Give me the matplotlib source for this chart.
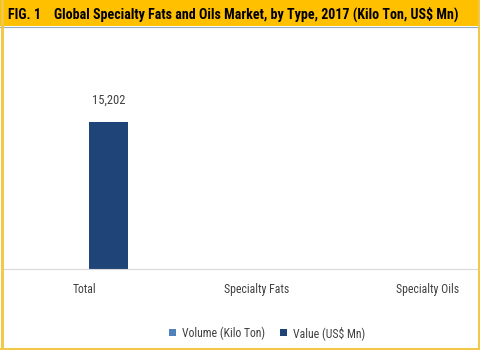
import matplotlib.pyplot as plt
import numpy as np
from matplotlib.patches import Rectangle
from matplotlib.lines import Line2D

categories = ['Total', 'Specialty Fats', 'Specialty Oils']
volume_kilo_ton = [0, 0, 0]
value_usd_mn = [15202, 0, 0]
series_names = ['Volume (Kilo Ton)', 'Value (US$ Mn)']
title = 'FIG. 1    Global Specialty Fats and Oils Market, by Type, 2017 (Kilo Ton, US$ Mn)'

light_blue = '#4F81BD'
dark_blue = '#1F4477'
gold = '#FFC000'
grey_text = '#404040'

plt.rcParams['font.family'] = ['Roboto Condensed', 'DejaVu Sans']

fig = plt.figure(figsize=(4.8, 3.5), dpi=100)
fig.patch.set_facecolor('white')

# title banner and yellow frame
fig.patches.append(Rectangle((0, 1 - 26 / 350), 1, 26 / 350, transform=fig.transFigure,
                             facecolor=gold, edgecolor='none', zorder=0))
fig.lines.append(Line2D([0, 1], [1 - 26.5 / 350] * 2, transform=fig.transFigure,
                        color='#8EA9C1', lw=0.8))
for xs, ys in [([1.5 / 480] * 2, [0, 1]), ([478.5 / 480] * 2, [0, 1]),
               ([0, 1], [1.5 / 350] * 2)]:
    fig.lines.append(Line2D(xs, ys, transform=fig.transFigure, color='#F2C84B', lw=2.2))
fig.text(8 / 480, 1 - 14 / 350, title, fontsize=10.1, fontweight='bold',
         color='black', va='center', ha='left')

ax = fig.add_axes([3 / 480, (350 - 269) / 350, 474 / 480, 229 / 350])
x = np.arange(len(categories))
w = 0.227
off = 0.137
ax.bar(x - off, volume_kilo_ton, w, color=light_blue, linewidth=0, label=series_names[0])
bars = ax.bar(x + off, value_usd_mn, w, color=dark_blue, linewidth=0, label=series_names[1])
for b, v in zip(bars, value_usd_mn):
    if v:
        ax.annotate(f'{v:,}', (b.get_x() + b.get_width() / 2, v), xytext=(0, 11),
                    textcoords='offset points', ha='center', va='bottom',
                    fontsize=9, color=grey_text)

ax.set_xlim(-0.478, 2.286)
ax.set_ylim(0, 23700)
ax.set_xticks(x)
ax.set_xticklabels(categories, fontsize=8.5, color=grey_text)
ax.tick_params(axis='x', length=0, pad=10)
ax.set_yticks([])
for s in ['top', 'left', 'right']:
    ax.spines[s].set_visible(False)
ax.spines['bottom'].set_color('#D9D9D9')

leg = fig.legend(loc='center', bbox_to_anchor=(267 / 480, 1 - 333 / 350), ncol=2,
                 frameon=False, fontsize=8.5, handlelength=0.55, handleheight=0.55,
                 handletextpad=0.5, columnspacing=1.3)
for t in leg.get_texts():
    t.set_color(grey_text)

fig.savefig('out.png', dpi=100)
